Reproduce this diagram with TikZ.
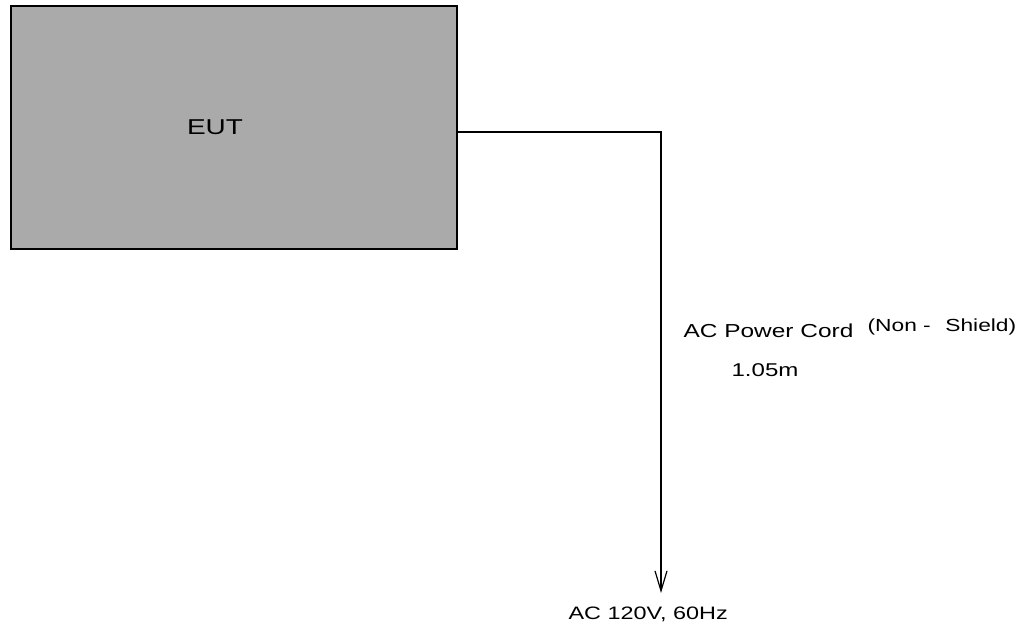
\documentclass[tikz,border=0pt]{standalone}
\usepackage{fontspec}
\setmainfont[FakeStretch=1.3]{Liberation Sans}
\usetikzlibrary{arrows.meta,calc}
\definecolor{eutgray}{RGB}{170,170,170}

\begin{document}
\begin{tikzpicture}[x=1pt, y=-1pt, line width=1.2pt]
	%%%%% START %%%%%
	\useasboundingbox (0, 0) rectangle (1031, 631);

	\node[draw=black, fill=eutgray, minimum width=446pt, minimum height=243pt, inner sep=0, outer sep=0] (eut) at (234, 127.5) {};
	\node[font=\fontsize{21.5}{24}\selectfont, anchor=base, inner sep=0] (eutlabel) at (215, 135) {EUT};

	\coordinate (plug) at (661, 593);
	\draw[-{Straight Barb[length=20pt, width=12pt]}] ($(eut.east)+(0, 4.5)$) -| (plug);

	\node[font=\fontsize{18.8}{22}\selectfont, anchor=base west, inner sep=0] (cord) at (683, 337) {AC Power Cord};
	\node[font=\fontsize{17.5}{20}\selectfont, anchor=base west, inner sep=0] (shield) at (867, 331) {(Non -\hspace{0.835em}Shield)};
	\node[font=\fontsize{18.5}{22}\selectfont, anchor=base west, inner sep=0] (length) at (731, 376) {1.05m};

	\node[font=\fontsize{18}{21}\selectfont, anchor=base west, inner sep=0] (mains) at (568, 619) {AC 120V, 60Hz};
	%%%%% END %%%%%
\end{tikzpicture}
\end{document}
